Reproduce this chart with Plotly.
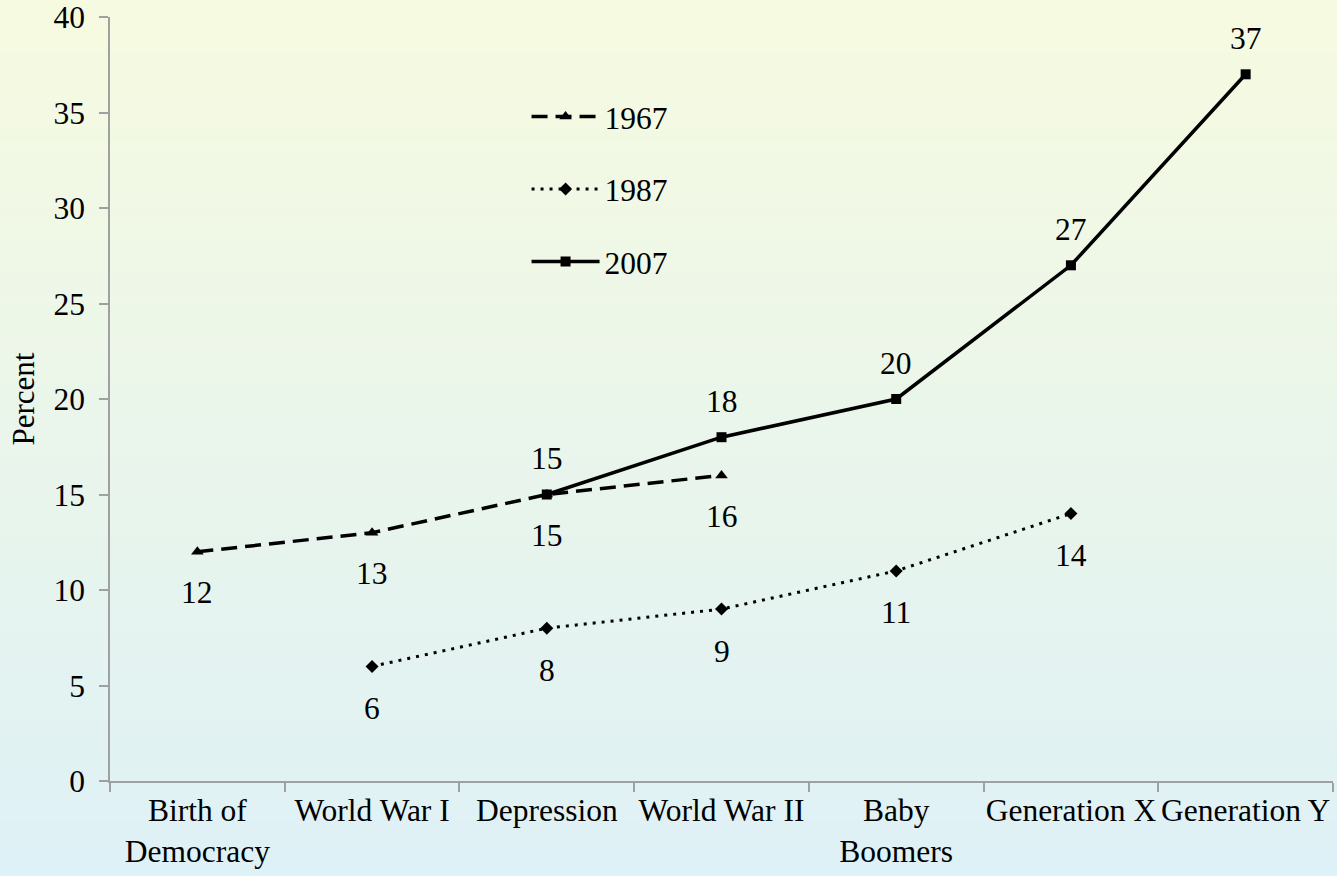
import plotly.graph_objects as go

categories = ["Birth of<br>Democracy", "World War I", "Depression", "World War II",
              "Baby<br>Boomers", "Generation X", "Generation Y"]
s1967 = [12, 13, 15, 16, None, None, None]
s1987 = [None, 6, 8, 9, 11, 14, None]
s2007 = [None, None, 15, 18, 20, 27, 37]
series_names = ["1967", "1987", "2007"]

FONT = "Liberation Serif, Times New Roman, serif"
FS = 31.5
fig = go.Figure()

styles = [
    dict(dash="16px,8px", width=3.5, symbol="triangle-up", size=11),
    dict(dash="3px,6px", width=3, symbol="diamond", size=10),
    dict(dash="solid", width=3.5, symbol="square", size=10),
]
for name, vals, st in zip(series_names, [s1967, s1987, s2007], styles):
    fig.add_trace(go.Scatter(
        x=categories, y=vals, name=name, mode="lines+markers",
        line=dict(color="black", width=st["width"], dash=st["dash"]),
        marker=dict(color="black", symbol=st["symbol"], size=st["size"]),
        connectgaps=False, legendgroup=name,
    ))

annotations = []
for vals, shift in [(s1967, -41), (s1987, -42), (s2007, 36)]:
    for c, v in zip(categories, vals):
        if v is None:
            continue
        annotations.append(dict(x=c, y=v, text=str(v), showarrow=False,
                                xref="x", yref="y", yshift=shift,
                                font=dict(family=FONT, size=FS, color="black")))

# background gradient (yellow top -> light blue bottom)
top = (246, 250, 224)
bot = (222, 241, 246)
n = 80
L, R, T, B = 110, 4, 17, 95
W, H = 1337, 876
ph = H - T - B
shapes = []
y_top_paper = 1 + T / ph
y_bot_paper = -B / ph
for i in range(n):
    f = i / (n - 1)
    col = tuple(round(top[k] + (bot[k] - top[k]) * f) for k in range(3))
    y1 = y_top_paper - (y_top_paper - y_bot_paper) * i / n
    y0 = y_top_paper - (y_top_paper - y_bot_paper) * (i + 1) / n
    shapes.append(dict(type="rect", xref="paper", yref="paper",
                       x0=-0.2, x1=1.2, y0=y0 - 0.002, y1=y1 + 0.002,
                       fillcolor="rgb(%d,%d,%d)" % col, line=dict(width=0),
                       layer="below"))

fig.update_layout(
    width=W, height=H,
    margin=dict(l=L, r=R, t=T, b=B, autoexpand=False),
    paper_bgcolor="rgb(234,246,236)",
    plot_bgcolor="rgba(0,0,0,0)",
    font=dict(family=FONT, size=FS, color="black"),
    shapes=shapes,
    annotations=annotations,
    showlegend=True,
    legend=dict(x=0.3406, y=0.905, xanchor="left", yanchor="top",
                bgcolor="rgba(0,0,0,0)", tracegroupgap=28.5,
                font=dict(family=FONT, size=FS, color="black"),
                itemwidth=68),
    xaxis=dict(type="category", showgrid=False, showline=True,
               linecolor="#A0A0A0", linewidth=1.5, ticks="outside",
               tickson="boundaries", ticklen=9, tickcolor="#A0A0A0",
               tickwidth=1.5, tickfont=dict(family=FONT, size=FS),
               tickangle=0, automargin=False,
               range=[-0.5, 6.5], zeroline=False),
    yaxis=dict(range=[0, 40], dtick=5, showgrid=False, showline=True,
               linecolor="#A0A0A0", linewidth=1.5, ticks="outside",
               ticklen=9, tickcolor="#A0A0A0", tickwidth=1.5,
               ticklabelstandoff=8, automargin=False,
               tickfont=dict(family=FONT, size=FS), zeroline=False,
               title=dict(text="Percent", font=dict(family=FONT, size=31),
                          standoff=10)),
)

fig.write_html("out.html", config={"displayModeBar": False},
               post_script="document.body.style.margin='0';document.body.style.padding='0';")
